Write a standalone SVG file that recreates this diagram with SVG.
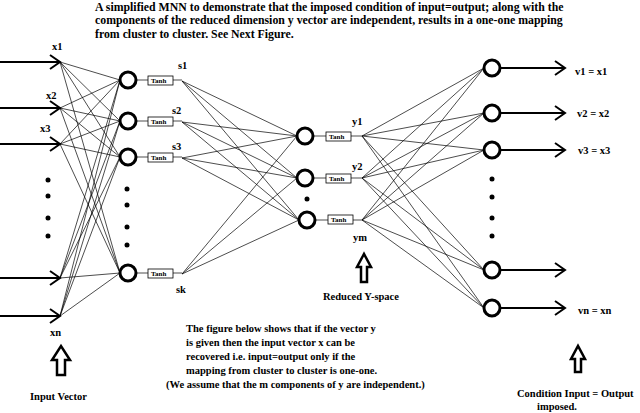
<svg xmlns="http://www.w3.org/2000/svg" width="640" height="413" viewBox="0 0 640 413">
<style>
text{font-family:"Liberation Serif",serif;font-weight:bold;font-size:10.5px;fill:#000}
.ti{font-size:11.8px}
.n{fill:#fff;stroke:#000;stroke-width:3}
.w{stroke:#000;stroke-width:0.7;fill:none}
.a{stroke:#000;stroke-width:2;fill:none}
.t{fill:#fff;stroke:#000;stroke-width:0.8}
.tt{font-size:7px}
.h{fill:#fff;stroke:#000;stroke-width:2.5}
</style>
<rect width="640" height="413" fill="#fff"/>
<text class="ti" x="95" y="11">A simplified MNN to demonstrate that the imposed condition of input=output; along with the</text>
<text class="ti" x="95" y="24">components of the reduced dimension y vector are independent, results in a one-one mapping</text>
<text class="ti" x="95" y="38">from cluster to cluster. See Next Figure.</text>
<g id="connectors">
<g class="w">
<path d="M60,62L120,80M60,62L120,121M60,62L120,157M60,62L120,273M60,108L120,80M60,108L120,121M60,108L120,157M60,108L120,273M60,144L120,80M60,144L120,121M60,144L120,157M60,144L120,273M60,278L120,80M60,278L120,121M60,278L120,157M60,278L120,273M60,316L120,80M60,316L120,121M60,316L120,157M60,316L120,273"/>
<path d="M182,81L297,136M182,81L297,178M182,81L299,220M182,122L297,136M182,122L297,178M182,122L299,220M182,158L297,136M182,158L297,178M182,158L299,220M182,274L297,136M182,274L297,178M182,274L299,220"/>
<path d="M362,136L484,68M362,136L484,113M362,136L484,150M362,136L484,270M362,136L484,308M362,178L484,68M362,178L484,113M362,178L484,150M362,178L484,270M362,178L484,308M362,220L484,68M362,220L484,113M362,220L484,150M362,220L484,270M362,220L484,308"/>
<path d="M136,80H148M173,80H182M136,121H148M173,121H182M136,157H148M173,157H182M136,273H148M173,273H182M313,136H326M351,136H362M313,178H326M351,178H362M315,220H328M353,220H362"/>
</g>
<g class="a">
<path d="M0,62H60M50,55L60,62L50,69M0,108H60M50,101L60,108L50,115M0,144H60M50,137L60,144L50,151M0,278H60M50,271L60,278L50,285M0,316H60M50,309L60,316L50,323"/>
<path d="M500,68H565M555,61L565,68L555,75M500,113H565M555,106L565,113L555,120M500,150H565M555,143L565,150L555,157M500,270H565M555,263L565,270L555,277M500,308H565M555,301L565,308L555,315"/>
</g>
</g>
<g id="inputs">
<text x="52" y="50">x1</text><text x="46" y="99">x2</text><text x="40" y="132">x3</text><text x="50" y="336">xn</text>
<circle cx="48" cy="180" r="2.5"/><circle cx="48" cy="196" r="2.5"/><circle cx="48" cy="218" r="2.5"/><circle cx="48" cy="236" r="2.5"/>
</g>
<g id="hidden1">
<circle class="n" cx="128" cy="80" r="8"/><circle class="n" cx="128" cy="121" r="8"/><circle class="n" cx="128" cy="157" r="8"/><circle class="n" cx="128" cy="273" r="8"/>
<circle cx="127" cy="189" r="2.5"/><circle cx="127" cy="205" r="2.5"/><circle cx="127" cy="227" r="2.5"/><circle cx="127" cy="245" r="2.5"/>
<rect class="t" x="148" y="76" width="25" height="9"/><text class="tt" x="151" y="83">Tanh</text>
<rect class="t" x="148" y="117" width="25" height="9"/><text class="tt" x="151" y="124">Tanh</text>
<rect class="t" x="148" y="153" width="25" height="9"/><text class="tt" x="151" y="160">Tanh</text>
<rect class="t" x="148" y="269" width="25" height="9"/><text class="tt" x="151" y="276">Tanh</text>
<text x="178" y="69">s1</text><text x="172" y="114">s2</text><text x="172" y="150">s3</text><text x="176" y="293">sk</text>
</g>
<g id="hidden2">
<circle class="n" cx="305" cy="136" r="8"/><circle class="n" cx="305" cy="178" r="8"/><circle class="n" cx="307" cy="220" r="8"/>
<circle cx="307" cy="199" r="2.5"/>
<rect class="t" x="326" y="132" width="25" height="9"/><text class="tt" x="329" y="139">Tanh</text>
<rect class="t" x="326" y="174" width="25" height="9"/><text class="tt" x="329" y="181">Tanh</text>
<rect class="t" x="328" y="215" width="25" height="9"/><text class="tt" x="331" y="222">Tanh</text>
<text x="352" y="125">y1</text><text x="352" y="170">y2</text><text x="353" y="241">ym</text>
</g>
<g id="outputs">
<circle class="n" cx="492" cy="68" r="8"/><circle class="n" cx="492" cy="113" r="8"/><circle class="n" cx="492" cy="150" r="8"/><circle class="n" cx="492" cy="270" r="8"/><circle class="n" cx="492" cy="308" r="8"/>
<circle cx="492" cy="179" r="2.5"/><circle cx="492" cy="197" r="2.5"/><circle cx="492" cy="218" r="2.5"/><circle cx="492" cy="236" r="2.5"/>
<text x="575" y="75">v1 = x1</text><text x="577" y="117">v2 = x2</text><text x="578" y="154">v3 = x3</text><text x="578" y="314">vn = xn</text>
</g>
<g id="notes">
<path class="h" d="M57,375V360H52L61,346L70,360H65V375Z"/>
<text x="30" y="400">Input Vector</text>
<path class="h" d="M361,282V267H357L364,254L371,267H367V282Z"/>
<text x="323" y="300">Reduced Y-space</text>
<path class="h" d="M575,372V359H571L578,346L585,359H581V372Z"/>
<text x="517" y="397">Condition Input = Output</text>
<text x="537" y="410">imposed.</text>
<text x="186" y="332">The figure below shows that if the vector y</text>
<text x="186" y="346">is given then the input vector x can be</text>
<text x="186" y="360">recovered i.e. input=output only if the</text>
<text x="186" y="374">mapping from cluster to cluster is one-one.</text>
<text x="166" y="388">(We assume that the m components of y are independent.)</text>
</g>
</svg>
